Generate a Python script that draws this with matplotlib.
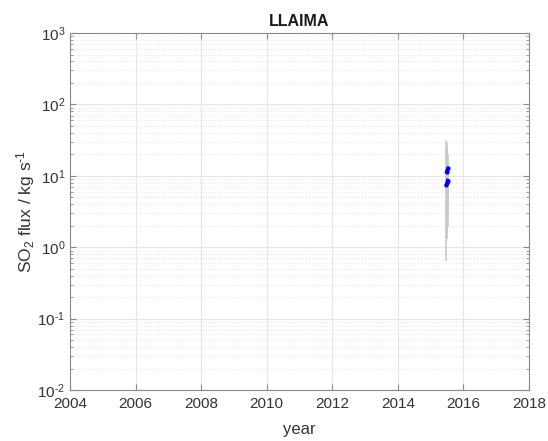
import matplotlib
matplotlib.use('Agg')
import matplotlib.pyplot as plt
import matplotlib.ticker as ticker
import numpy as np

plt.rcParams['font.family'] = ['Liberation Sans', 'DejaVu Sans']
plt.rcParams['mathtext.fontset'] = 'custom'
plt.rcParams['mathtext.rm'] = 'Liberation Sans'
plt.rcParams['mathtext.it'] = 'Liberation Sans'

# SO2 flux observations (two short clusters in mid 2015)
t_upper = [2015.49, 2015.51, 2015.53]
flux_upper = [11.3, 12.0, 12.7]
low_upper = [1.6, 2.3, 3.0]
high_upper = [29.0, 24.0, 20.0]

t_lower = [2015.48, 2015.50, 2015.52]
flux_lower = [7.5, 8.0, 8.6]
low_lower = [0.65, 1.3, 1.9]
high_lower = [32.0, 21.0, 16.0]

years = list(range(2004, 2019, 2))
volcano = 'LLAIMA'

fig = plt.figure(figsize=(5.48, 4.41), dpi=100)
ax = fig.add_axes([0.1277, 0.1156, 0.9653 - 0.1277, 0.925 - 0.1156])

for t, lo, hi in [(t_upper, low_upper, high_upper),
                  (t_lower, low_lower, high_lower)]:
    ax.vlines(t, lo, hi, color='#c8c8c8', linewidth=1.2, zorder=2)
for t, f in [(t_upper, flux_upper), (t_lower, flux_lower)]:
    ax.plot(t, f, color='blue', linewidth=2.5, marker='.', markersize=4, zorder=3)

ax.set_yscale('log')
ax.set_xlim(2004, 2018)
ax.set_ylim(1e-2, 1e3)
ax.set_xticks(years)
ax.xaxis.set_major_formatter(ticker.FormatStrFormatter('%d'))
ax.yaxis.set_major_locator(ticker.LogLocator(base=10, numticks=10))
ax.yaxis.set_major_formatter(ticker.FuncFormatter(
    lambda v, p: '10$^{\\text{%d}}$' % round(np.log10(v))))
ax.yaxis.set_minor_locator(ticker.LogLocator(base=10, subs=np.arange(2, 10), numticks=10))
ax.yaxis.set_minor_formatter(ticker.NullFormatter())

ax.grid(which='major', color='#e6e6e6', linestyle='-', linewidth=0.8)
ax.grid(which='minor', axis='y', color='#e6e6e6', linestyle=':', linewidth=0.8)
ax.set_axisbelow(True)

for s in ax.spines.values():
    s.set_color('#8a8a8a')
    s.set_linewidth(0.8)
ax.tick_params(which='both', direction='in', top=True, right=True, colors='#8a8a8a',
               labelcolor='#333333', labelsize=11)
ax.tick_params(which='major', length=4)
ax.tick_params(which='minor', length=2)
ax.tick_params(axis='x', pad=5)

ax.set_title(volcano, fontsize=11.5, fontweight='bold', color='#1a1a1a', pad=5)
ax.set_xlabel('year', fontsize=12, color='#333333', labelpad=8)
ax.set_ylabel('SO$_{\\text{2}}$ flux / kg s$^{\\text{-1}}$', fontsize=12.5,
              color='#333333', labelpad=0)

fig.savefig('out.png', dpi=100)
